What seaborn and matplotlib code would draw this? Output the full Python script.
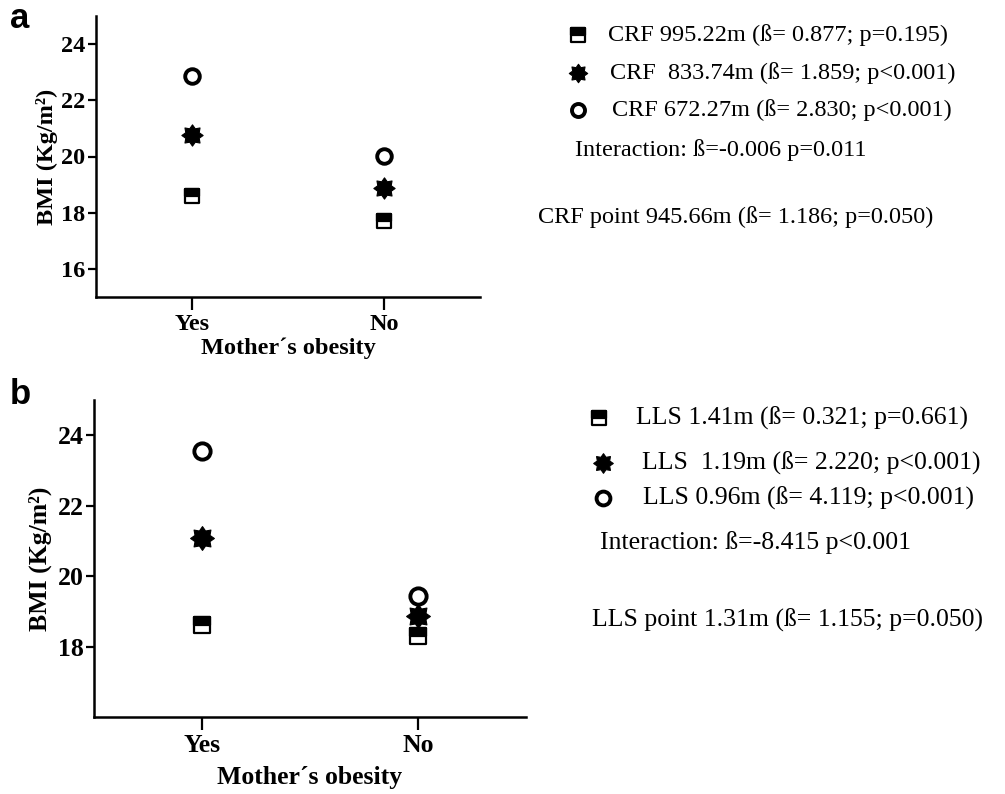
import numpy as np
import pandas as pd
import matplotlib
matplotlib.use("Agg")
import matplotlib.pyplot as plt
from matplotlib.path import Path
import seaborn as sns

sns.set_style("white")
plt.rcParams['font.family'] = ['Liberation Serif', 'DejaVu Serif']
plt.rcParams['text.color'] = 'black'
plt.rcParams['axes.labelcolor'] = 'black'
plt.rcParams['xtick.color'] = 'black'
plt.rcParams['ytick.color'] = 'black'

# ---------------- data ----------------
groups = ["Yes", "No"]
a_high = [18.60, 17.70]    # CRF 995.22m
a_mid = [20.77, 18.87]     # CRF 833.74m
a_low = [22.87, 20.02]     # CRF 672.27m
b_high = [18.62, 18.29]    # LLS 1.41m
b_mid = [21.08, 18.87]     # LLS 1.19m
b_low = [23.55, 19.43]     # LLS 0.96m

a_yticks = [16, 18, 20, 22, 24]
b_yticks = [18, 20, 22, 24]

a_legend = ["CRF 995.22m (ß= 0.877; p=0.195)",
            "CRF  833.74m (ß= 1.859; p<0.001)",
            "CRF 672.27m (ß= 2.830; p<0.001)"]
a_inter = "Interaction: ß=-0.006 p=0.011"
a_point = "CRF point 945.66m (ß= 1.186; p=0.050)"
b_legend = ["LLS 1.41m (ß= 0.321; p=0.661)",
            "LLS  1.19m (ß= 2.220; p<0.001)",
            "LLS 0.96m (ß= 4.119; p<0.001)"]
b_inter = "Interaction: ß=-8.415 p<0.001"
b_point = "LLS point 1.31m (ß= 1.155; p=0.050)"

ylabel = "BMI (Kg/m²)"
xlabel = "Mother´s obesity"

# ---------------- marker shapes ----------------
top_half = Path([(-0.5, 0.0), (0.5, 0.0), (0.5, 0.5), (-0.5, 0.5), (-0.5, 0.0)],
                [Path.MOVETO, Path.LINETO, Path.LINETO, Path.LINETO, Path.CLOSEPOLY])
n = 8
ang = np.linspace(0, 2 * np.pi, 2 * n, endpoint=False) + np.pi / 2
rad = np.where(np.arange(2 * n) % 2 == 0, 1.0, 0.68)
star_verts = list(zip(rad * np.cos(ang), rad * np.sin(ang)))
star_verts.append(star_verts[0])
star_path = Path(star_verts, [Path.MOVETO] + [Path.LINETO] * (2 * n - 1) + [Path.CLOSEPOLY])

W, H = 1005, 794
fig = plt.figure(figsize=(W / 100, H / 100), dpi=100)


def draw_markers(ax, x, y, kind, scale=1.0, clip=True):
    df = pd.DataFrame({"x": x, "y": y})
    if kind == "square":
        sns.scatterplot(data=df, x="x", y="y", ax=ax, marker="s", s=110 * scale,
                        facecolor="white", edgecolor="black", linewidth=1.6, clip_on=clip, zorder=3)
        sns.scatterplot(data=df, x="x", y="y", ax=ax, marker=top_half, s=110 * scale,
                        color="black", edgecolor="black", linewidth=1.6, clip_on=clip, zorder=4)
    elif kind == "star":
        sns.scatterplot(data=df, x="x", y="y", ax=ax, marker=star_path, s=235 * scale,
                        color="black", edgecolor="black", linewidth=0.8, clip_on=clip, zorder=3)
    else:
        sns.scatterplot(data=df, x="x", y="y", ax=ax, marker="o", s=110 * scale,
                        facecolor="white", edgecolor="black", linewidth=2.8, clip_on=clip, zorder=3)


def panel(rect, hi, mid, lo, ylim, yticks, ylab_x, xlab_y, scale, fs):
    ax = fig.add_axes(rect)
    xs = np.arange(len(groups))
    draw_markers(ax, xs, hi, "square", scale)
    draw_markers(ax, xs, mid, "star", scale)
    draw_markers(ax, xs, lo, "circle", scale)
    ax.set_xlim(-0.5, 1.5)
    ax.set_ylim(*ylim)
    ax.set_xticks(xs)
    ax.set_xticklabels(groups)
    ax.set_yticks(yticks)
    for s in ["top", "right"]:
        ax.spines[s].set_visible(False)
    for s in ["left", "bottom"]:
        ax.spines[s].set_linewidth(1.8)
        ax.spines[s].set_color("black")
    ax.tick_params(axis="y", direction="out", length=6, width=1.6, pad=1.5,
                   labelsize=fs, color="black", left=True)
    ax.tick_params(axis="x", direction="out", length=9, width=1.6, pad=3,
                   labelsize=fs, color="black", bottom=True)
    for t in ax.get_xticklabels() + ax.get_yticklabels():
        t.set_fontweight("bold")
    ax.set_xlabel(xlabel, fontsize=fs, fontweight="bold", va="center")
    ax.set_ylabel(ylabel, fontsize=fs, fontweight="bold", va="center")
    ax.xaxis.set_label_coords(0.5, xlab_y)
    ax.yaxis.set_label_coords(ylab_x, 0.5)
    ax.grid(False)
    return ax


def rect(l, r, t, b):
    return [l / W, 1 - b / H, (r - l) / W, (b - t) / H]


ax_a = panel(rect(96, 480, 16, 297), a_high, a_mid, a_low, (15, 25), a_yticks,
             -0.128, -0.181, 1.0, 17.5)
ax_b = panel(rect(94, 526, 400, 717), b_high, b_mid, b_low, (16, 25), b_yticks,
             -0.124, -0.192, 1.25, 18.5)

# panel letters
fig.text(10 / W, 1 - 19 / H, "a", fontsize=25, fontweight="bold", family="Liberation Sans",
         ha="left", va="center")
fig.text(10 / W, 1 - 394 / H, "b", fontsize=25, fontweight="bold", family="Liberation Sans",
         ha="left", va="center")

# annotation overlay in pixel coordinates
ov = fig.add_axes([0, 0, 1, 1])
ov.set_xlim(0, W)
ov.set_ylim(H, 0)
ov.axis("off")
ov.patch.set_alpha(0)

kinds = ["square", "star", "circle"]
# panel a legend
a_mx = [578, 578, 578]
a_my = [35, 73, 110]
a_tx = [608, 610, 612]
for k, mx, my, tx, txt in zip(kinds, a_mx, a_my, a_tx, a_legend):
    draw_markers(ov, [mx], [my], k, 0.8 if k != "star" else 0.75, clip=False)
    ov.text(tx, my, txt, fontsize=17.5, va="center", ha="left")
ov.text(575, 150, a_inter, fontsize=17.5, va="center", ha="left")
ov.text(538, 217, a_point, fontsize=17.5, va="center", ha="left")

# panel b legend
b_mx = [599, 603, 603]
b_my = [418, 463, 498]
b_tx = [636, 642, 643]
for k, mx, my, tx, txt in zip(kinds, b_mx, b_my, b_tx, b_legend):
    draw_markers(ov, [mx], [my], k, 0.9 if k != "star" else 0.85, clip=False)
    ov.text(tx, my, txt, fontsize=18.5, va="center", ha="left")
ov.text(600, 543, b_inter, fontsize=18.5, va="center", ha="left")
ov.text(592, 620, b_point, fontsize=18.5, va="center", ha="left")

for a in [ax_a, ax_b, ov]:
    leg = a.get_legend()
    if leg is not None:
        leg.remove()

fig.savefig("out.png", dpi=100)
